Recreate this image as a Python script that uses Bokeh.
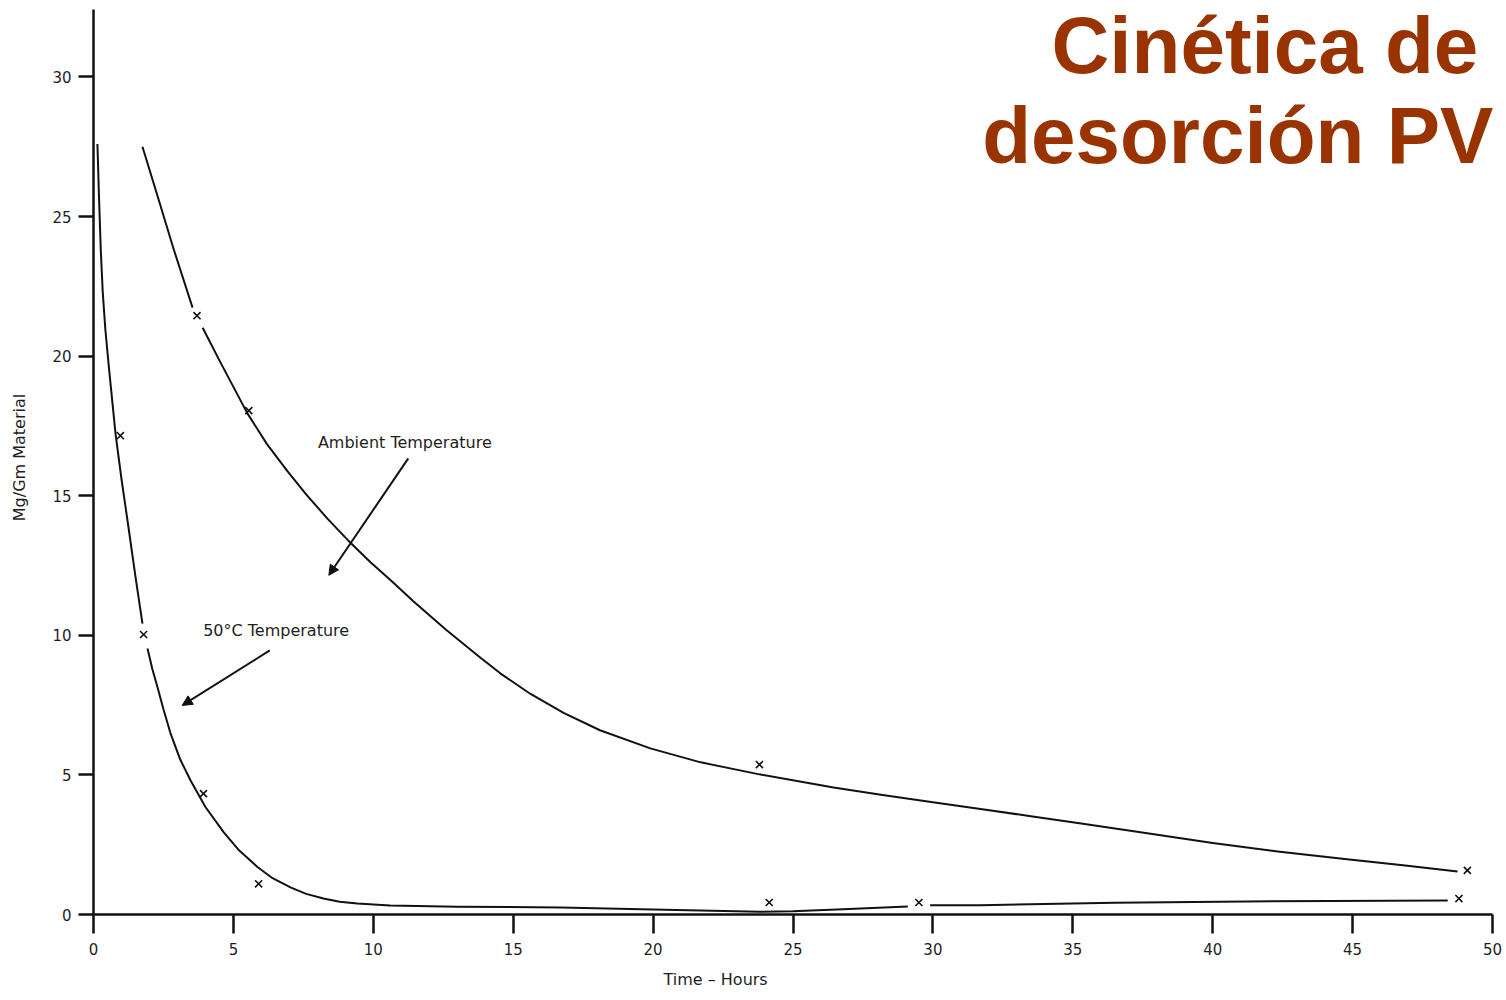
from bokeh.plotting import figure
from bokeh.models import FixedTicker, Label, Arrow, NormalHead, Title
from bokeh.embed import file_html
from bokeh.resources import INLINE

# ---------------- data ----------------
x_ticks = [0, 5, 10, 15, 20, 25, 30, 35, 40, 45, 50]
y_ticks = [0, 5, 10, 15, 20, 25, 30]

# Ambient temperature curve (hand drawn, with a gap around one point)
amb_seg1_x = [1.75, 2.3, 2.86, 3.54]
amb_seg1_y = [27.5, 25.7, 23.85, 21.74]
amb_seg2_x = [3.9, 4.5, 5.5, 6.2, 6.93, 7.6, 8.36, 9.1, 9.9, 10.7, 11.43,
              12.6, 13.83, 14.55, 15.62, 16.8, 18.1, 19.9, 21.7, 23.8,
              26.45, 28.2, 30.0, 31.7, 33.5, 35.3, 37.6, 40.0, 42.4,
              44.8, 46.8, 48.75]
amb_seg2_y = [21.02, 19.85, 17.95, 16.85, 15.88, 15.05, 14.18, 13.4, 12.62,
              11.9, 11.22, 10.2, 9.2, 8.63, 7.9, 7.22, 6.6, 5.95, 5.45,
              5.02, 4.55, 4.28, 4.02, 3.78, 3.52, 3.26, 2.92, 2.56, 2.25,
              1.98, 1.76, 1.54]
amb_pts_x = [3.7, 5.55, 23.8, 49.1]
amb_pts_y = [21.45, 18.05, 5.37, 1.58]

# 50 °C curve
hot_seg1_x = [0.14, 0.2, 0.26, 0.33, 0.42, 0.55, 0.79, 1.0, 1.26, 1.5, 1.75]
hot_seg1_y = [27.6, 25.6, 23.8, 22.3, 21.0, 19.6, 17.2, 15.6, 13.8, 12.1, 10.42]
hot_seg2_x = [1.93, 2.1, 2.29, 2.5, 2.75, 3.1, 3.47, 4.0, 4.65, 5.2, 5.86,
              6.4, 7.04, 7.6, 8.22, 8.8, 9.43, 10.6, 13.0, 16.7, 20.0,
              23.8, 25.0, 27.0, 29.1]
hot_seg2_y = [9.53, 8.8, 8.13, 7.35, 6.5, 5.55, 4.8, 3.85, 2.95, 2.3, 1.7,
              1.3, 0.97, 0.74, 0.57, 0.46, 0.39, 0.32, 0.28, 0.25, 0.18,
              0.1, 0.12, 0.2, 0.29]
hot_seg3_x = [29.9, 31.7, 36.5, 41.2, 48.4]
hot_seg3_y = [0.33, 0.33, 0.42, 0.47, 0.5]
hot_pts_x = [0.96, 1.79, 3.93, 5.9, 24.15, 29.5, 48.8]
hot_pts_y = [17.15, 10.03, 4.33, 1.1, 0.43, 0.43, 0.57]

# annotations
amb_label = "Ambient Temperature"
hot_label = "50°C Temperature"
amb_arrow = [11.25, 16.34, 8.41, 12.15]   # x_start, y_start, x_end, y_end
hot_arrow = [6.3, 9.46, 3.17, 7.49]
title_lines = ["Cinética de", "desorción PV"]
x_label = "Time – Hours"
y_label = "Mg/Gm Material"

INK = "#111111"
TXT = "#1e1e1e"

p = figure(width=1506, height=1000, x_range=(0, 50.5), y_range=(0, 32.74),
           output_backend="svg", toolbar_location=None,
           min_border_left=93, min_border_right=0,
           min_border_top=0, min_border_bottom=86)
p.xgrid.visible = False
p.ygrid.visible = False
p.outline_line_color = None
p.background_fill_color = "white"
p.border_fill_color = "white"

for ax in (p.xaxis[0], p.yaxis[0]):
    ax.axis_line_width = 2.5
    ax.axis_line_color = INK
    ax.major_tick_line_width = 2.5
    ax.major_tick_line_color = INK
    ax.major_tick_in = 0
    ax.minor_tick_line_color = None
    ax.major_label_text_font = "DejaVu Sans"
    ax.major_label_text_font_size = "15px"
    ax.major_label_text_color = TXT

p.xaxis[0].ticker = FixedTicker(ticks=x_ticks)
p.xaxis[0].bounds = (0, 50)
p.xaxis[0].major_tick_out = 19
p.xaxis[0].major_label_standoff = 9

p.yaxis[0].ticker = FixedTicker(ticks=y_ticks)
p.yaxis[0].bounds = (0, 32.4)
p.yaxis[0].major_tick_out = 15
p.yaxis[0].major_label_standoff = 7
p.yaxis[0].axis_label = y_label
p.yaxis[0].axis_label_text_font = "DejaVu Sans"
p.yaxis[0].axis_label_text_font_size = "16px"
p.yaxis[0].axis_label_text_font_style = "normal"
p.yaxis[0].axis_label_text_color = TXT
p.yaxis[0].axis_label_standoff = 20

# x axis label as a bottom title, placed under the 20-25 ticks like the reference
p.add_layout(Title(text=x_label, align="left", offset=570, standoff=21,
                   text_font="DejaVu Sans", text_font_size="16px",
                   text_font_style="normal", text_color=TXT), "below")

# curves
p.multi_line(xs=[amb_seg1_x, amb_seg2_x], ys=[amb_seg1_y, amb_seg2_y],
             line_color=INK, line_width=2, line_join="round")
p.multi_line(xs=[hot_seg1_x, hot_seg2_x, hot_seg3_x],
             ys=[hot_seg1_y, hot_seg2_y, hot_seg3_y],
             line_color=INK, line_width=2, line_join="round")

# data points
p.scatter(amb_pts_x, amb_pts_y, marker="x", size=10, line_width=1.6, line_color=INK)
p.scatter(hot_pts_x, hot_pts_y, marker="x", size=10, line_width=1.6, line_color=INK)

# arrows
for a in (amb_arrow, hot_arrow):
    p.add_layout(Arrow(end=NormalHead(size=10, fill_color=INK, line_color=INK, line_width=1),
                       x_start=a[0], y_start=a[1], x_end=a[2], y_end=a[3],
                       line_color=INK, line_width=2))

# curve labels
p.add_layout(Label(x=8.02, y=16.89, text=amb_label, text_font="DejaVu Sans",
                   text_font_size="16px", text_color=TXT,
                   text_baseline="alphabetic"))
p.add_layout(Label(x=3.92, y=10.16, text=hot_label, text_font="DejaVu Sans",
                   text_font_size="16px", text_color=TXT,
                   text_baseline="alphabetic"))

# title, top-right
p.add_layout(Label(x=34.24, y=31.12, text=title_lines[0], text_font="Liberation Sans",
                   text_font_style="bold", text_font_size="80px", text_color="#993300",
                   text_baseline="alphabetic"))
p.add_layout(Label(x=31.76, y=27.89, text=title_lines[1], text_font="Liberation Sans",
                   text_font_style="bold", text_font_size="80px", text_color="#993300",
                   text_baseline="alphabetic"))

open("out.html", "w").write(file_html(p, INLINE))
